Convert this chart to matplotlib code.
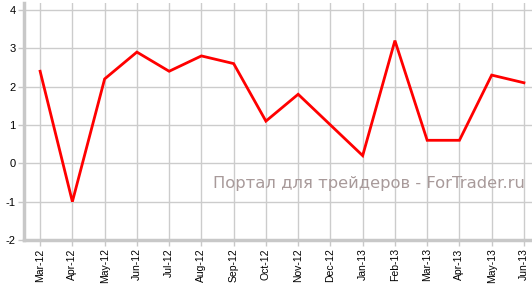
import matplotlib
matplotlib.use("Agg")
import matplotlib.pyplot as plt

MONTHS = ["Mar-12", "Apr-12", "May-12", "Jun-12", "Jul-12", "Aug-12", "Sep-12", "Oct-12",
          "Nov-12", "Dec-12", "Jan-13", "Feb-13", "Mar-13", "Apr-13", "May-13", "Jun-13"]
VALUES = [2.4, -1.0, 2.2, 2.9, 2.4, 2.8, 2.6, 1.1, 1.8, 1.0, 0.2, 3.2, 0.6, 0.6, 2.3, 2.1]
Y_TICKS = [-2, -1, 0, 1, 2, 3, 4]
WATERMARK = "Портал для трейдеров - ForTrader.ru"


def main() -> None:
    fig = plt.figure(figsize=(5.32, 2.85), dpi=100)
    ax = fig.add_axes([24 / 532, 1 - 240 / 285, 1 - 24 / 532, 237 / 285])
    x = list(range(len(MONTHS)))
    ax.plot(x, VALUES, color="#ff0000", linewidth=2, solid_joinstyle="miter", zorder=3)

    ax.set_xlim(-0.5, 15.25)
    ax.set_ylim(-2, 4.18)
    ax.set_xticks(x)
    ax.set_xticklabels(MONTHS, rotation=90, fontsize=7.5, family="Liberation Sans")
    ax.set_yticks(Y_TICKS)
    ax.set_yticklabels([str(v) for v in Y_TICKS], fontsize=8, family="Liberation Sans")
    ax.grid(True, color="#cccccc", linewidth=1)
    ax.set_axisbelow(True)

    for side in ("top", "right"):
        ax.spines[side].set_visible(False)
    for side in ("left", "bottom"):
        ax.spines[side].set_color("#c8c8c8")
        ax.spines[side].set_linewidth(2.5)
    ax.tick_params(axis="both", colors="#c8c8c8", labelcolor="black", length=4, width=1, pad=2)

    ax.text(0.985, 0.24, WATERMARK, transform=ax.transAxes, ha="right", va="center",
            fontsize=11.8, color="#a89a9a", family="DejaVu Sans")

    fig.savefig("out.png", dpi=100)
    plt.close(fig)


if __name__ == "__main__":
    main()
